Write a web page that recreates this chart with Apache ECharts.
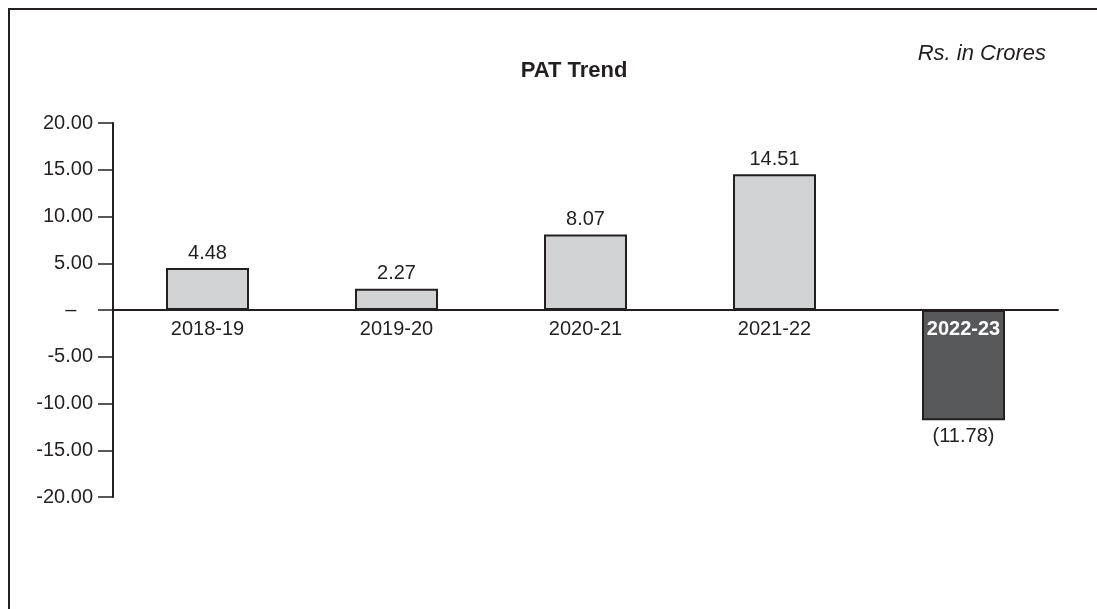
<!DOCTYPE html>
<html>
<head>
<meta charset="utf-8">
<script src="https://cdn.jsdelivr.net/npm/echarts@6/dist/echarts.min.js"></script>
<style>
html,body{margin:0;padding:0;background:#fff;}
#c{width:1097px;height:609px;}
</style>
</head>
<body>
<div id="c"></div>
<script>
var categories = ['2018-19', '2019-20', '2020-21', '2021-22', '2022-23'];
var patValues = [4.48, 2.27, 8.07, 14.51, -11.78];
var yTicks = [-20, -15, -10, -5, 0, 5, 10, 15, 20];

var FONT = '"Liberation Sans", Arial, sans-serif';
var INK = '#231f20';

var chart = echarts.init(document.getElementById('c'));
chart.setOption({
  backgroundColor: '#ffffff',
  animation: false,
  textStyle: { fontFamily: FONT },
  title: [
    { text: 'PAT Trend', left: 569, top: 55, textAlign: 'center',
      textStyle: { fontFamily: FONT, fontSize: 22, fontWeight: 'bold', color: INK } },
    { text: 'Rs. in Crores', right: 46, top: 38,
      textStyle: { fontFamily: FONT, fontSize: 22, fontStyle: 'italic', fontWeight: 'normal', color: INK } }
  ],
  graphic: [
    { type: 'polyline', shape: { points: [[9, 609], [9, 9], [1097, 9]] },
      style: { stroke: INK, lineWidth: 2, fill: null } }
  ],
  grid: { left: 113, right: 39, top: 123, bottom: 112, containLabel: false },
  xAxis: {
    type: 'category',
    data: categories,
    axisLine: { onZero: true, lineStyle: { color: INK, width: 2 } },
    axisTick: { show: false },
    axisLabel: { show: false },
    splitLine: { show: false }
  },
  yAxis: {
    type: 'value',
    min: yTicks[0], max: yTicks[yTicks.length - 1], interval: 5,
    axisLine: { show: true, onZero: false, lineStyle: { color: INK, width: 2 } },
    axisTick: { show: true, inside: false, length: 15, lineStyle: { color: INK, width: 1.5 } },
    axisLabel: {
      fontFamily: FONT, fontSize: 20, color: INK, margin: 20,
      formatter: function (v) { return v === 0 ? '–   ' : v.toFixed(2); }
    },
    splitLine: { show: false }
  },
  series: [{
    type: 'bar',
    barWidth: 83,
    z: 2,
    data: patValues.map(function (v) {
      var neg = v < 0;
      return {
        value: v,
        itemStyle: { color: neg ? '#58595b' : '#d1d2d4', borderColor: INK, borderWidth: 2 },
        label: neg ? { position: 'bottom', distance: 6 } : { position: 'top', distance: 5 }
      };
    }),
    label: {
      show: true,
      fontFamily: FONT, fontSize: 20, color: INK,
      formatter: function (p) {
        return p.value < 0 ? '(' + Math.abs(p.value).toFixed(2) + ')' : p.value.toFixed(2);
      }
    }
  }, {
    type: 'scatter',
    z: 5,
    symbolSize: 0,
    silent: true,
    itemStyle: { opacity: 1 },
    data: categories.map(function (c, i) {
      var neg = patValues[i] < 0;
      return {
        value: [c, 0],
        label: neg ? { color: '#ffffff', fontWeight: 'bold' } : {}
      };
    }),
    label: {
      show: true, position: 'bottom', distance: 9,
      fontFamily: FONT, fontSize: 20, color: INK,
      formatter: function (p) { return p.value[0]; }
    }
  }]
});
</script>
</body>
</html>
